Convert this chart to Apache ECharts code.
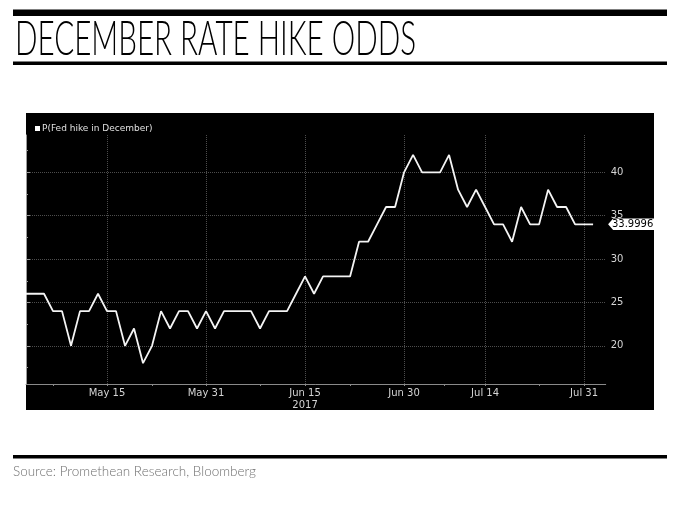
<!DOCTYPE html>
<html>
<head>
<meta charset="utf-8">
<script src="https://cdn.jsdelivr.net/npm/echarts@6/dist/echarts.min.js"></script>
<style>
html, body { margin: 0; padding: 0; background: #fff; }
#chart { width: 680px; height: 510px; }
</style>
</head>
<body>
<div id="chart"></div>
<script>
// trading days, May 2 - Aug 1 2017 (Memorial Day and Jul 4 skipped)
var DATES = [
  "2017-05-02", "2017-05-03", "2017-05-04", "2017-05-05", "2017-05-08", "2017-05-09", "2017-05-10",
  "2017-05-11", "2017-05-12", "2017-05-15", "2017-05-16", "2017-05-17", "2017-05-18", "2017-05-19",
  "2017-05-22", "2017-05-23", "2017-05-24", "2017-05-25", "2017-05-26", "2017-05-30", "2017-05-31",
  "2017-06-01", "2017-06-02", "2017-06-05", "2017-06-06", "2017-06-07", "2017-06-08", "2017-06-09",
  "2017-06-12", "2017-06-13", "2017-06-14", "2017-06-15", "2017-06-16", "2017-06-19", "2017-06-20",
  "2017-06-21", "2017-06-22", "2017-06-23", "2017-06-26", "2017-06-27", "2017-06-28", "2017-06-29",
  "2017-06-30", "2017-07-03", "2017-07-05", "2017-07-06", "2017-07-07", "2017-07-10", "2017-07-11",
  "2017-07-12", "2017-07-13", "2017-07-14", "2017-07-17", "2017-07-18", "2017-07-19", "2017-07-20",
  "2017-07-21", "2017-07-24", "2017-07-25", "2017-07-26", "2017-07-27", "2017-07-28", "2017-07-31",
  "2017-08-01"
];
var VALUES = [
  26, 26, 26, 24, 24, 20, 24, 24, 26, 24, 24, 20, 22, 18, 20, 24, 22, 24, 24, 22, 24,
  22, 24, 24, 24, 24, 22, 24, 24, 24, 26, 28, 26, 28, 28, 28, 28, 32, 32, 34, 36, 36,
  40, 42, 40, 40, 40, 42, 38, 36, 38, 36, 34, 34, 32, 36, 34, 34, 38, 36, 36, 34, 34,
  33.9996
];
var SERIES_NAME = "P(Fed hike in December)";
var TITLE = "DECEMBER RATE HIKE ODDS";
var SOURCE = "Source: Promethean Research, Bloomberg";
var TICK_DATES = ["2017-05-15", "2017-05-31", "2017-06-15", "2017-06-30", "2017-07-14", "2017-07-31"];
var YEAR_DATE = "2017-06-15";
var MINOR_X = [3, 14, 26, 36, 46.5, 57];
var Y_TICKS = [20, 25, 30, 35, 40];
var Y_MINOR = [17.5, 22.5, 27.5, 32.5, 37.5, 42.5];
var MONTHS = ["Jan", "Feb", "Mar", "Apr", "May", "Jun", "Jul", "Aug", "Sep", "Oct", "Nov", "Dec"];

var FONT = "'DejaVu Sans', Verdana, sans-serif";
var TITLE_FONT = "normal 300 47.5px Lato, 'Liberation Sans', sans-serif";

function fmtDate(i) {
  var d = DATES[Math.round(i)];
  if (!d) return "";
  var p = d.split("-");
  var s = MONTHS[+p[1] - 1] + " " + (+p[2]);
  if (d === YEAR_DATE) s += "\n" + p[0];
  return s;
}

// squeeze the title to the width of the original condensed face
function titleScale() {
  var ctx = document.createElement("canvas").getContext("2d");
  ctx.font = TITLE_FONT;
  var w = ctx.measureText(TITLE).width;
  return w ? 401 / w : 0.6;
}

var tickIdx = TICK_DATES.map(function(d) { return DATES.indexOf(d); });
var last = VALUES.length - 1;

var chart = echarts.init(document.getElementById("chart"));
chart.setOption({
  backgroundColor: "#fff",
  animation: false,
  graphic: { elements: [
    { type: "rect", z: -10, shape: { x: 26, y: 113, width: 628, height: 297 }, style: { fill: "#000" } },
    { type: "rect", shape: { x: 13, y: 9.5, width: 654, height: 6.5 }, style: { fill: "#000" } },
    { type: "rect", shape: { x: 13, y: 61.5, width: 654, height: 3.5 }, style: { fill: "#000" } },
    { type: "rect", shape: { x: 13, y: 455, width: 654, height: 3.5 }, style: { fill: "#000" } },
    { type: "text", x: 15, y: 39.5, scaleX: titleScale(),
      style: { text: TITLE, fill: "#000", verticalAlign: "middle", font: TITLE_FONT } },
    { type: "text", x: 13, y: 472,
      style: { text: SOURCE, fill: "#707070", verticalAlign: "middle",
               font: "normal 300 13.5px Lato, sans-serif" } }
  ] },
  legend: {
    data: [SERIES_NAME], left: 30, top: 119, icon: "rect", itemWidth: 5, itemHeight: 5,
    textStyle: { color: "#e0e0e0", fontSize: 9, fontFamily: FONT, padding: [0, 0, 0, -3] }
  },
  grid: { left: 26, right: 74.3, top: 135, bottom: 126 },
  xAxis: [{
    type: "value", min: 0, max: 64.4, position: "bottom",
    axisLine: { onZero: false, lineStyle: { color: "#8a8a8a", width: 1 } },
    axisTick: { customValues: tickIdx, length: 2, lineStyle: { color: "#8a8a8a" } },
    axisLabel: { customValues: tickIdx, formatter: function(v) { return fmtDate(v); },
                 color: "#d4d4d4", fontSize: 10, fontFamily: FONT, margin: 3, lineHeight: 12.5 },
    splitLine: { show: true, lineStyle: { color: "#4d4d4d", type: "dotted", width: 1 } }
  }, {
    type: "value", min: 0, max: 64.4, position: "bottom",
    axisLine: { show: false, onZero: false },
    axisTick: { customValues: MINOR_X, length: 2, lineStyle: { color: "#8a8a8a" } },
    axisLabel: { show: false },
    splitLine: { show: false }
  }],
  yAxis: [{
    type: "value", min: 15.6, max: 44.3, position: "right",
    axisLine: { show: true, lineStyle: { color: "#9a9a9a", width: 1 } },
    axisTick: { show: true, customValues: Y_TICKS, length: 4, lineStyle: { color: "#9a9a9a" } },
    axisLabel: { customValues: Y_TICKS, color: "#d4d4d4", fontSize: 10, fontFamily: FONT, margin: 5 },
    splitLine: { show: true, lineStyle: { color: "#4d4d4d", type: "dotted", width: 1 } }
  }, {
    type: "value", min: 15.6, max: 44.3, position: "right",
    axisLine: { show: false },
    axisTick: { show: true, customValues: Y_MINOR, length: 2, lineStyle: { color: "#9a9a9a" } },
    axisLabel: { show: false },
    splitLine: { show: false }
  }],
  series: [{
    name: SERIES_NAME, type: "line", symbol: "none", smooth: false,
    xAxisIndex: 0, yAxisIndex: 0,
    data: VALUES.map(function(v, i) { return [i, v]; }),
    lineStyle: { color: "#f4f4f4", width: 1.8 },
    itemStyle: { color: "#fff" },
    markPoint: {
      silent: true,
      symbol: "path://M0,5 L5,0 L47,0 L47,10 L5,10 Z",
      symbolSize: [47, 11.5], symbolOffset: [38.5, 0],
      itemStyle: { color: "#fff" },
      label: { show: true, color: "#000", fontSize: 10, fontFamily: FONT, offset: [1, 0],
               formatter: function(p) { return String(p.value); } },
      data: [{ coord: [last, VALUES[last]], value: VALUES[last] }]
    }
  }]
});
</script>
</body>
</html>
